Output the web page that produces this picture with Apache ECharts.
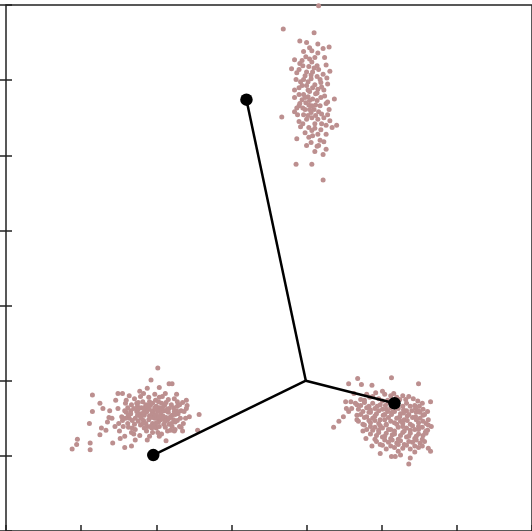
<!DOCTYPE html>
<html lang="en">
<head>
	<meta charset="UTF-8">
	<title>Clusters</title>
    <script src="https://cdn.jsdelivr.net/npm/echarts@6/dist/echarts.min.js"></script>
    <style>html,body{margin:0;padding:0;background:#fff;}</style>
</head>
<body>
	<div id="main" style="width:532px;height:531px;"></div>
	<script type="text/javascript">

        // cluster points
        var clusterTop = [
            [4.16,6.99],[3.69,6.68],[4.10,6.63],[3.91,6.52],[4.00,6.50],[4.15,6.48],[4.04,6.43],[4.30,6.44],
            [4.22,6.42],[3.96,6.38],[4.07,6.39],[4.15,6.36],[3.84,6.27],[3.94,6.26],[4.04,6.28],[3.95,6.19],
            [3.80,6.15],[3.90,6.14],[4.03,6.18],[4.14,6.19],[4.26,6.20],[4.31,6.12],[4.08,6.11],[3.98,6.06],
            [3.86,6.01],[3.92,5.98],[4.06,6.02],[4.18,6.01],[4.27,6.03],[4.00,5.93],[4.11,5.94],[3.90,5.90],
            [4.04,5.85],[4.14,5.83],[4.23,5.87],[3.96,5.81],[3.84,5.77],[4.08,5.75],[4.19,5.77],[4.37,5.75],
            [3.99,5.70],[3.90,5.66],[4.12,5.67],[4.26,5.69],[3.67,5.51],[4.04,5.61],[3.84,5.58],[4.16,5.58],
            [4.30,5.61],[3.96,5.54],[4.07,5.50],[4.23,5.50],[4.40,5.40],[3.90,5.45],[4.11,5.42],[4.34,5.37],
            [4.03,5.37],[4.19,5.34],[3.98,5.30],[4.08,5.26],[4.26,5.28],[4.06,5.17],[4.18,5.20],[3.87,5.22],
            [4.14,5.12],[4.26,5.08],[4.11,5.05],[4.22,5.01],[3.86,4.88],[4.07,4.88],[4.22,4.67],[3.91,5.69],
            [4.02,5.78],[4.10,5.61],[4.15,5.48],[4.03,5.67],[3.94,5.74],[4.20,5.91],[3.87,6.10],[4.00,6.11],
            [4.06,6.07],[4.14,6.05],[3.96,6.01],[4.19,5.97],[4.02,5.87],[4.08,5.90],[3.90,5.81],[4.14,5.73],
            [4.24,5.79],[3.95,5.63],[4.06,5.57],[4.18,5.66],[4.28,5.54],[4.00,5.48],[4.11,5.36],[4.20,5.42],
            [3.92,5.38],[4.03,5.24],[4.15,5.28],[4.23,5.18],[3.98,5.61],[4.04,5.73],[4.12,5.82],[3.94,5.93],
            [4.07,6.24],[4.16,6.14],[3.99,6.31],[4.24,6.30],[3.88,5.54],[4.31,5.46],
            [3.91,6.22],[4.10,6.16],[4.22,6.08],[4.02,5.98],[3.84,5.87],[4.15,5.88],[3.98,5.77],[4.28,5.71],
            [4.07,5.66],[3.87,5.63],[4.20,5.55],[4.02,5.53],[4.12,5.53],[3.95,5.42],[4.26,5.40],[4.07,5.33],
            [4.16,5.13],[4.00,5.13],[4.28,5.95],[4.11,6.30]
        ];

        var clusterLeft = [
            [2.02,2.17],[1.93,2.01],[2.21,1.96],[2.17,1.96],[1.15,1.81],[1.55,1.83],[1.49,1.83],[1.78,1.86],
            [1.88,1.90],[2.04,1.91],[2.40,1.74],[2.41,1.67],[1.15,1.59],[1.25,1.70],[1.11,1.43],[0.95,1.22],
            [0.94,1.15],[0.88,1.09],[1.12,1.08],[1.12,1.17],[1.42,1.17],[1.58,1.11],[1.67,1.13],[2.57,1.55],
            [2.55,1.34],[2.33,1.38],[2.24,1.33],[2.13,1.20],[2.04,1.26],[1.91,1.26],[1.25,1.28],[1.27,1.37],
            [1.37,1.51],[1.29,1.63],
            [1.49,1.63],[1.54,1.52],[1.59,1.70],[1.62,1.43],[1.66,1.60],[1.68,1.37],[1.71,1.76],[1.72,1.50],
            [1.75,1.66],[1.78,1.56],[1.79,1.41],[1.82,1.72],[1.83,1.47],[1.86,1.62],[1.87,1.33],[1.90,1.78],
            [1.91,1.53],[1.92,1.67],[1.95,1.43],[1.96,1.58],[1.99,1.74],[2.00,1.37],[2.02,1.50],[2.04,1.64],
            [2.06,1.55],[2.08,1.79],[2.10,1.42],[2.11,1.60],[2.13,1.71],[2.15,1.48],[2.17,1.63],[2.19,1.34],
            [2.21,1.54],[2.24,1.76],[2.25,1.45],[2.28,1.66],[2.29,1.56],[2.32,1.50],[2.35,1.71],[2.37,1.59],
            [1.56,1.39],[1.60,1.58],[1.64,1.50],[1.67,1.68],[1.70,1.29],[1.74,1.59],[1.76,1.46],[1.80,1.64],
            [1.84,1.54],[1.88,1.39],[1.91,1.72],[1.94,1.60],[1.98,1.50],[2.00,1.66],[2.03,1.45],[2.07,1.70],
            [2.09,1.53],[2.12,1.38],[2.16,1.58],[2.20,1.68],[2.23,1.48],[2.27,1.60],[2.31,1.39],[1.41,1.50],
            [1.45,1.39],[1.35,1.45],[1.51,1.33],[1.58,1.26],[1.78,1.27],[1.95,1.31],[2.07,1.29],[2.17,1.42],
            [2.36,1.43],[1.83,1.83],[1.98,1.82],[2.12,1.83],[1.64,1.80],[1.38,1.60],[1.46,1.74],[1.33,1.34],
            [1.72,1.21],[1.88,1.21],[1.52,1.23],[2.27,1.82],[2.44,1.52],[2.35,1.33],[1.86,1.68],[1.94,1.55],
            [2.02,1.59],[1.80,1.50],[1.75,1.54],[2.06,1.48],[1.90,1.62],[1.98,1.41],[1.71,1.42],[1.62,1.64],
            [2.13,1.51],[2.21,1.39],[1.66,1.56],
            [1.58,1.60],[1.63,1.54],[1.68,1.47],[1.74,1.70],[1.76,1.62],[1.79,1.52],[1.82,1.43],[1.84,1.64],
            [1.87,1.58],[1.90,1.48],[1.92,1.39],[1.95,1.70],[1.96,1.51],[1.99,1.62],[2.00,1.54],[2.03,1.72],
            [2.04,1.39],[2.07,1.59],[2.08,1.50],[2.11,1.67],[2.12,1.46],[2.15,1.62],[2.16,1.75],[2.19,1.52],
            [2.20,1.43],[2.23,1.64],[2.25,1.55],[2.28,1.47],[2.31,1.68],[2.33,1.60],[1.60,1.74],[1.55,1.47],
            [1.50,1.43],[1.67,1.31],[1.84,1.37],[2.02,1.31],[2.15,1.33],[2.25,1.35],[2.39,1.50],[2.40,1.63],
            [1.70,1.63],[1.76,1.71],[1.83,1.58],[1.88,1.67],[1.92,1.51],[1.98,1.64],[2.04,1.52],[2.08,1.64],
            [2.13,1.60],[2.17,1.50],[1.86,1.43],[1.94,1.37],[1.72,1.35],[1.59,1.50],[2.24,1.59],[2.28,1.72],
            [1.79,1.79],[2.04,1.78],[1.63,1.38],[2.00,1.44]
        ];

        var clusterRight = [
            [5.13,2.04],[4.68,2.03],[4.56,1.96],[5.49,1.96],[4.73,1.95],[4.87,1.94],[4.36,1.38],[5.65,1.72],
            [4.49,1.52],[4.53,1.63],[4.52,1.72],[5.36,0.89],[5.62,1.10],[5.66,1.39],[5.59,1.30],[5.13,0.99],
            [5.25,1.01],[5.38,0.97],[4.98,1.03],[4.87,1.13],[4.79,1.23],[4.59,1.72],[4.56,1.59],[4.60,1.63],
            [4.65,1.70],[5.61,1.34],[5.65,1.06],[5.18,0.99],[4.43,1.46],[4.63,1.83],[5.01,1.86],
            [4.80,1.82],[4.92,1.84],[5.04,1.82],[5.16,1.83],[5.28,1.80],
            [4.72,1.75],[4.84,1.78],[4.96,1.76],[5.08,1.74],[5.20,1.78],[5.32,1.75],[5.42,1.76],
            [4.67,1.68],[4.77,1.71],[4.88,1.70],[4.98,1.68],[5.09,1.71],[5.21,1.68],[5.33,1.70],[5.44,1.67],[5.54,1.70],
            [4.69,1.62],[4.80,1.64],[4.91,1.63],[5.01,1.62],[5.12,1.64],[5.22,1.63],[5.33,1.60],[5.45,1.63],[5.55,1.62],
            [4.72,1.55],[4.83,1.58],[4.93,1.56],[5.04,1.55],[5.14,1.58],[5.25,1.56],[5.36,1.55],[5.46,1.58],[5.57,1.55],
            [4.67,1.48],[4.77,1.51],[4.88,1.50],[4.98,1.48],[5.09,1.51],[5.20,1.50],[5.30,1.48],[5.41,1.51],[5.51,1.50],[5.62,1.48],
            [4.75,1.42],[4.85,1.44],[4.96,1.43],[5.06,1.42],[5.17,1.44],[5.28,1.43],[5.38,1.42],[5.49,1.44],[5.59,1.43],
            [4.80,1.35],[4.91,1.38],[5.01,1.37],[5.12,1.35],[5.22,1.38],[5.33,1.37],[5.44,1.35],[5.54,1.38],
            [4.85,1.29],[4.96,1.31],[5.06,1.30],[5.17,1.29],[5.28,1.31],[5.38,1.30],[5.49,1.29],[5.58,1.31],
            [4.91,1.22],[5.01,1.25],[5.12,1.23],[5.22,1.22],[5.33,1.25],[5.44,1.23],[5.54,1.22],
            [4.98,1.15],[5.09,1.18],[5.20,1.17],[5.30,1.15],[5.41,1.18],[5.51,1.17],
            [5.06,1.09],[5.17,1.11],[5.28,1.10],[5.38,1.09],[5.49,1.11],
            [4.88,1.79],[5.12,1.80],[5.36,1.79],
            [4.83,1.66],[5.05,1.67],[5.28,1.66],[5.50,1.66],
            [4.75,1.59],[4.96,1.60],[5.17,1.59],[5.40,1.60],[5.61,1.59],
            [4.80,1.52],[5.02,1.54],[5.24,1.52],[5.45,1.52],
            [4.69,1.46],[4.91,1.47],[5.12,1.46],[5.34,1.47],[5.55,1.46],
            [4.85,1.39],[5.06,1.41],[5.28,1.39],[5.49,1.39],
            [4.75,1.33],[4.96,1.34],[5.17,1.33],[5.38,1.34],[5.59,1.33],
            [5.04,1.26],[5.25,1.27],[5.46,1.26],
            [4.93,1.19],[5.14,1.21],[5.36,1.19],[5.57,1.19],
            [5.12,1.13],[5.33,1.14],[5.54,1.13],
            [5.22,1.06],[5.44,1.05],
            [4.77,1.74],[5.01,1.73],[5.24,1.75],[5.48,1.73],
            [4.72,1.67],[4.94,1.66],[5.16,1.68],[5.38,1.66],
            [4.85,1.58],[5.08,1.59],[5.29,1.57],[5.51,1.58],
            [4.67,1.54],[4.91,1.53],[5.13,1.55],[5.34,1.53],[5.55,1.54],
            [4.83,1.47],[5.04,1.48],[5.25,1.46],[5.46,1.48],
            [4.77,1.41],[4.98,1.40],[5.20,1.42],[5.41,1.40],[5.62,1.41],
            [4.88,1.34],[5.09,1.35],[5.30,1.33],[5.49,1.35],
            [4.93,1.27],[5.14,1.28],[5.36,1.26],[5.55,1.27],
            [5.04,1.21],[5.25,1.20],[5.46,1.21],
            [5.01,1.14],[5.22,1.15],[5.44,1.13],
            [4.85,1.61],[5.06,1.62],[5.29,1.61],[5.49,1.60]
        ];

        // centre of the tree and its three end nodes
        var hub = [3.99, 2.00];
        var nodes = [[3.20, 5.74], [5.17, 1.70], [1.96, 1.01]];

        var myChart = echarts.init(document.getElementById('main'));

        var frame = '#222';
        function axis(pos) {
            return {
                type: 'value', position: pos, min: 0, max: 7, interval: 1,
                axisLine: {show: false},
                axisLabel: {show: false},
                splitLine: {show: false},
                axisTick: {show: true, inside: true, length: 6, lineStyle: {color: frame, width: 1.5}}
            };
        }

        var series = [];
        [clusterTop, clusterLeft, clusterRight].forEach(function (c) {
            series.push({
                type: 'scatter', data: c, symbolSize: 5,
                itemStyle: {color: '#bc8f8f', opacity: 1},
                z: 1, silent: true
            });
        });
        nodes.forEach(function (n) {
            series.push({
                type: 'line', data: [hub, n], showSymbol: false,
                lineStyle: {color: '#000', width: 2.5}, z: 3, silent: true
            });
        });
        series.push({
            type: 'scatter', data: nodes, symbolSize: 12.5,
            itemStyle: {color: '#000', opacity: 1}, z: 4, silent: true
        });

        var option = {
            animation: false,
            grid: {left: 6, top: 5, width: 528, height: 528, show: true,
                   borderColor: frame, borderWidth: 1.5, backgroundColor: '#fff'},
            xAxis: [axis('bottom'), axis('top')],
            yAxis: [axis('left'), axis('right')],
            series: series
        };

        myChart.setOption(option);
    </script>
</body>
</html>
